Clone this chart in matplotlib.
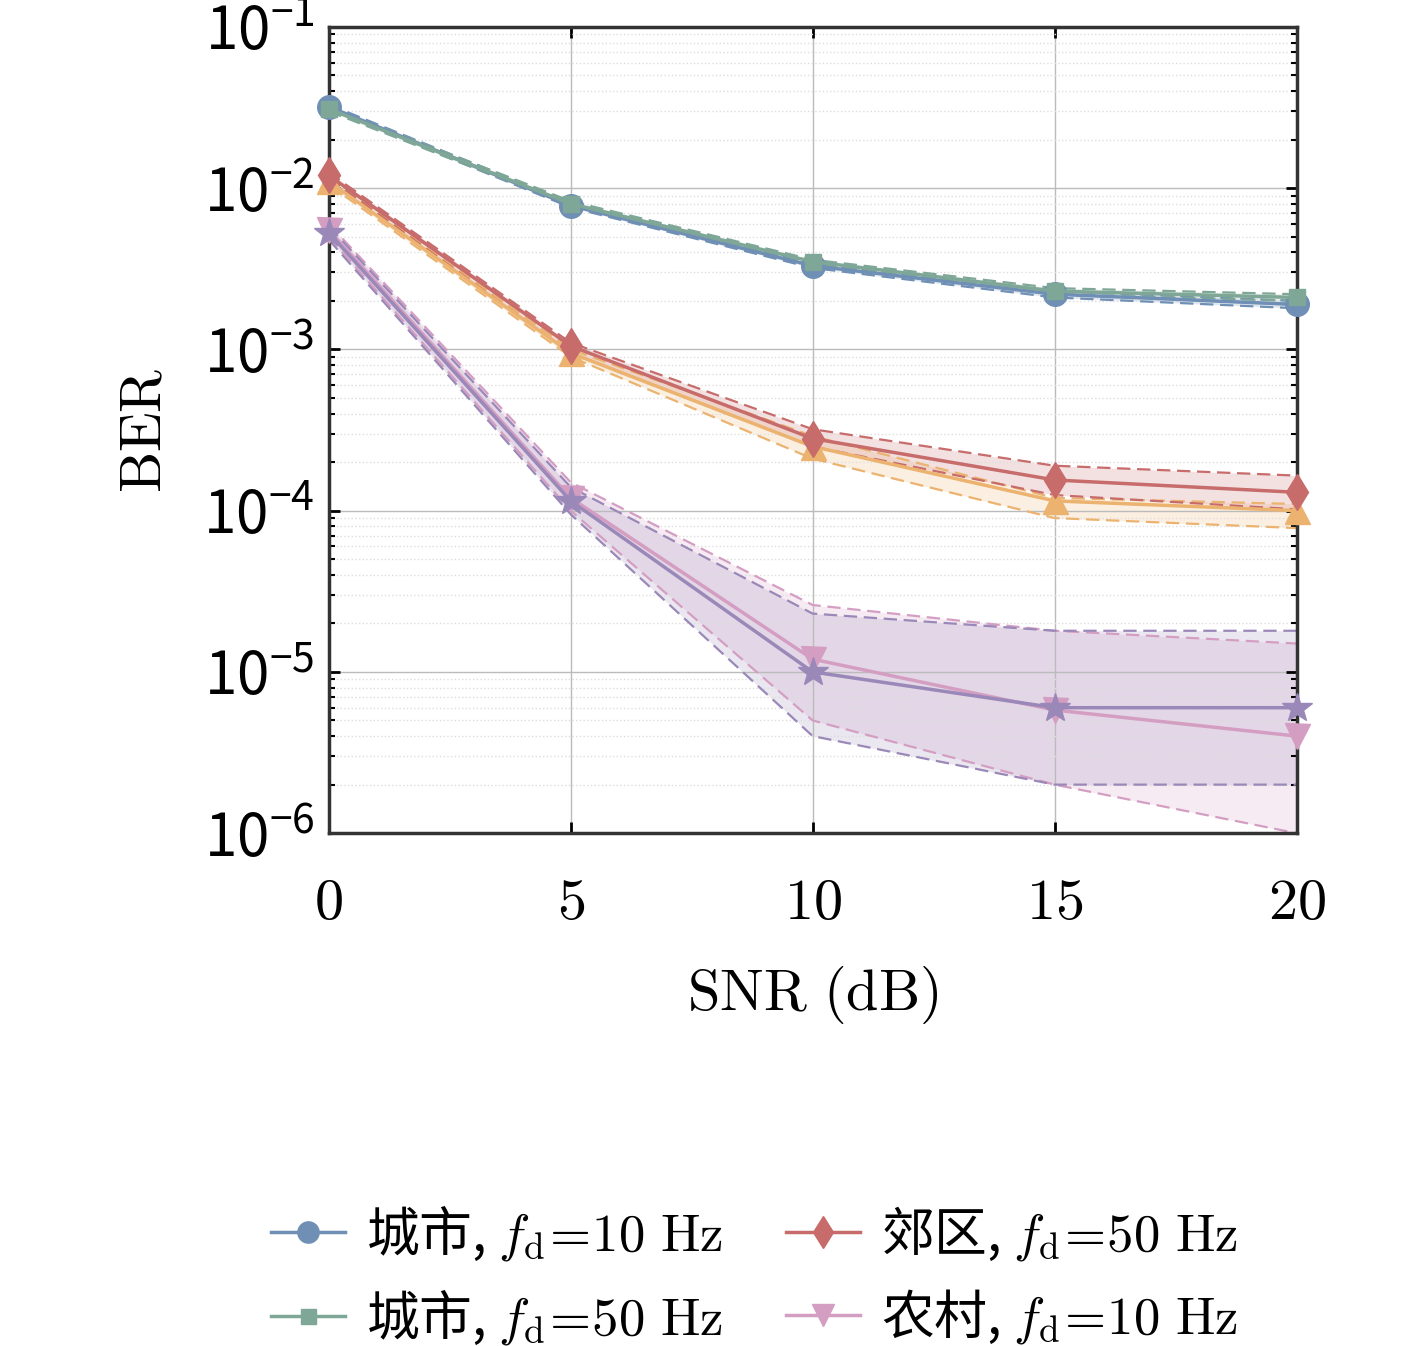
import numpy as np
import matplotlib.pyplot as plt

plt.rcParams['font.family'] = ['Noto Sans CJK SC', 'DejaVu Serif']
plt.rcParams['mathtext.fontset'] = 'cm'

snr = [0, 5, 10, 15, 20]
labels = ['城市, $f_\\mathrm{d}\\!=\\!10\\ \\mathrm{Hz}$', '城市, $f_\\mathrm{d}\\!=\\!50\\ \\mathrm{Hz}$',
          '郊区, $f_\\mathrm{d}\\!=\\!10\\ \\mathrm{Hz}$', '郊区, $f_\\mathrm{d}\\!=\\!50\\ \\mathrm{Hz}$',
          '农村, $f_\\mathrm{d}\\!=\\!10\\ \\mathrm{Hz}$', '农村, $f_\\mathrm{d}\\!=\\!50\\ \\mathrm{Hz}$']
ber = [
    [0.032, 0.0078, 0.0033, 0.0022, 0.0019],
    [0.031, 0.0080, 0.0035, 0.0023, 0.0021],
    [0.011, 0.00095, 0.00025, 0.000115, 0.0001],
    [0.012, 0.00105, 0.00028, 0.000155, 0.00013],
    [0.0055, 0.00012, 1.2e-5, 5.8e-6, 4e-6],
    [0.0053, 0.000115, 1.0e-5, 6e-6, 6e-6],
]
upper = [
    [0.033, 0.0081, 0.0034, 0.0023, 0.0020],
    [0.032, 0.0083, 0.0036, 0.0024, 0.0022],
    [0.0115, 0.001, 0.00029, 0.00012, 0.00011],
    [0.0125, 0.0011, 0.00032, 0.00019, 0.000165],
    [0.006, 0.00015, 2.6e-5, 1.8e-5, 1.5e-5],
    [0.0058, 0.00014, 2.3e-5, 1.8e-5, 1.8e-5],
]
lower = [
    [0.031, 0.0076, 0.0032, 0.0021, 0.0018],
    [0.030, 0.0078, 0.0034, 0.0022, 0.0020],
    [0.0105, 0.0009, 0.00021, 0.00009, 0.000078],
    [0.0115, 0.00095, 0.00025, 0.000125, 0.000102],
    [0.005, 0.0001, 5e-6, 2e-6, 1e-6],
    [0.0048, 9.5e-5, 4e-6, 2e-6, 2e-6],
]
colors = ['#6f8fb5', '#7fa797', '#ebb36f', '#c76b6b', '#d49ec3', '#9a88b8']
markers = ['o', 's', '^', 'd', 'v', '*']
msizes = [17, 12, 18, 18, 18, 22]

fig = plt.figure(figsize=(14.17, 13.46), dpi=100)
ax = fig.add_axes([0.232, 0.381, 0.683, 0.599])
for i in range(6):
    ax.fill_between(snr, lower[i], upper[i], color=colors[i], alpha=0.2, lw=0)
    ax.plot(snr, upper[i], '--', color=colors[i], lw=1.6, dashes=(6, 3))
    ax.plot(snr, lower[i], '--', color=colors[i], lw=1.6, dashes=(6, 3))
    ax.plot(snr, ber[i], '-', color=colors[i], lw=2.5, marker=markers[i], ms=msizes[i],
            label=labels[i], clip_on=False, zorder=5)

ax.set_yscale('log')
ax.set_xlim(0, 20)
ax.set_ylim(1e-6, 1e-1)
ax.set_xticks(snr)
ax.set_xticklabels(['$%d$' % s for s in snr])
ax.set_yticks([1e-6, 1e-5, 1e-4, 1e-3, 1e-2, 1e-1])
ax.grid(True, which='major', color='#bbbbbb', lw=1)
ax.grid(True, which='minor', color='#dddddd', ls=':', lw=1)
ax.tick_params(which='both', direction='in', top=True, right=True, labelsize=42)
ax.tick_params(axis='x', pad=28)
ax.tick_params(axis='y', pad=10)
ax.tick_params(which='major', length=8, width=2)
ax.tick_params(which='minor', length=4, width=1.5)
for s in ax.spines.values():
    s.set_linewidth(2.5)
    s.set_color('#333333')
ax.set_xlabel('$\\mathrm{SNR\\ (dB)}$', fontsize=42, labelpad=22)
ax.set_ylabel('$\\mathrm{BER}$', fontsize=42, labelpad=20)

ax.legend(loc='upper center', bbox_to_anchor=(0.44, -0.4), ncol=2, frameon=False,
          fontsize=38, handlelength=1.4, columnspacing=1.2, labelspacing=0.45, handletextpad=0.4,
          markerscale=0.9)
fig.savefig('out.png')
